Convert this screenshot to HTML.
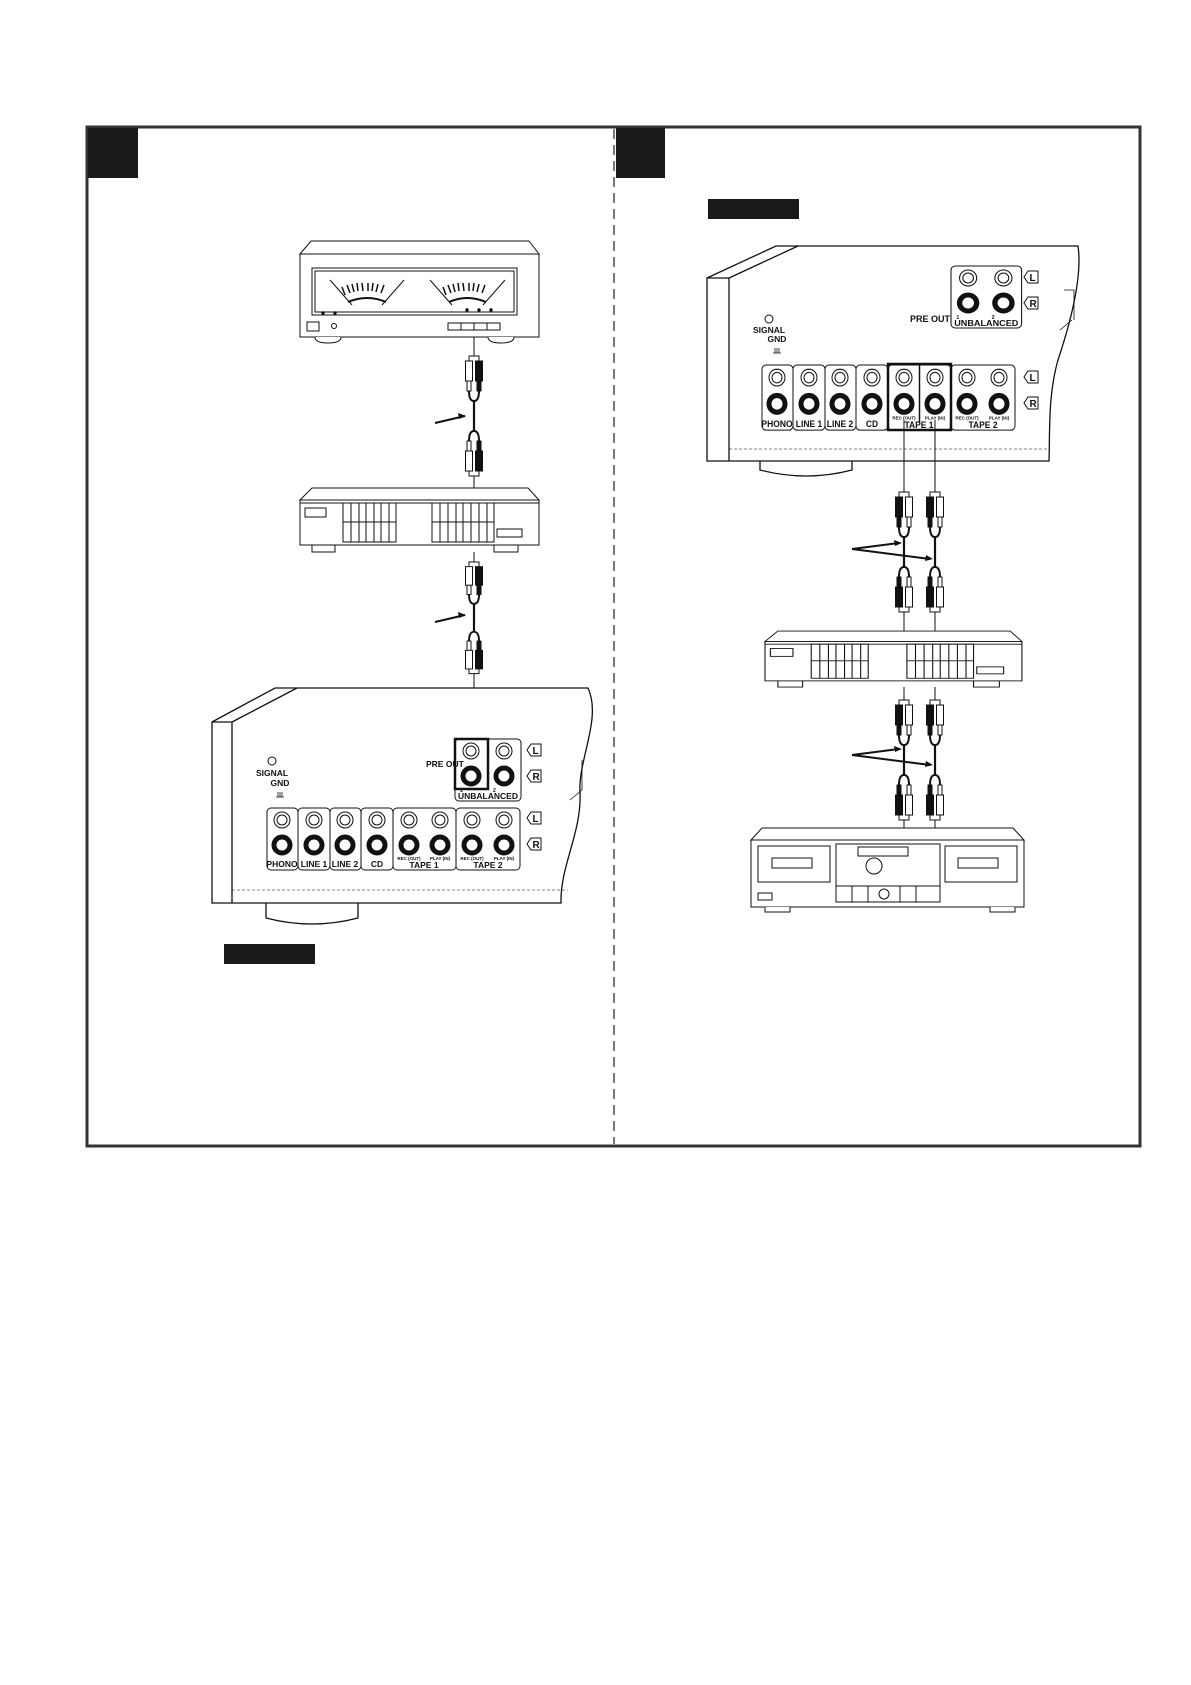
<!DOCTYPE html>
<html><head><meta charset="utf-8"><style>
html,body{margin:0;padding:0;background:#fff;}
svg{display:block;}
text{font-family:"Liberation Sans",sans-serif;font-weight:bold;fill:#111;}
</style></head><body>
<svg width="1191" height="1685" viewBox="0 0 1191 1685" xmlns="http://www.w3.org/2000/svg">
<defs>
  <g id="cab" fill="none" stroke="#111" stroke-width="1">
    <path d="M-5,5 V0 H5 V5"/>
    <rect x="-8.5" y="5" width="7" height="20" fill="#fff"/>
    <rect x="1.5" y="5" width="7" height="20" fill="#111"/>
    <rect x="-7" y="25" width="4" height="10" fill="#fff"/>
    <rect x="3" y="25" width="4" height="10" fill="#111"/>
    <path d="M-5,35 Q-5,45 0,45 Q5,45 5,35" stroke-width="2"/>
    <line x1="0" y1="45" x2="0" y2="75" stroke-width="2.2"/>
    <path d="M-5,85 Q-5,75 0,75 Q5,75 5,85" stroke-width="2"/>
    <rect x="-7" y="85" width="4" height="10" fill="#fff"/>
    <rect x="3" y="85" width="4" height="10" fill="#111"/>
    <rect x="-8.5" y="95" width="7" height="20" fill="#fff"/>
    <rect x="1.5" y="95" width="7" height="20" fill="#111"/>
    <path d="M-5,115 V120 H5 V115"/>
  </g>
  <g id="jk">
    <circle cx="0" cy="0" r="8" fill="#fff" stroke="#111" stroke-width="1"/>
    <circle cx="0" cy="0" r="5" fill="#fff" stroke="#111" stroke-width="1"/>
  </g>
  <g id="jb">
    <circle cx="0" cy="0" r="8" fill="#fff" stroke="#111" stroke-width="5"/>
  </g>
  <g id="row">
    <g fill="none" stroke="#111" stroke-width="1">
      <rect x="0" y="0" width="31" height="62" rx="4"/>
      <rect x="31" y="0" width="32" height="62" rx="4"/>
      <rect x="63" y="0" width="31" height="62" rx="4"/>
      <rect x="94" y="0" width="32" height="62" rx="4"/>
      <rect x="126" y="0" width="63" height="62" rx="4"/>
      <rect x="189" y="0" width="64" height="62" rx="4"/>
    </g>
    <use href="#jk" x="15" y="12"/><use href="#jk" x="47" y="12"/><use href="#jk" x="78" y="12"/><use href="#jk" x="110" y="12"/>
    <use href="#jk" x="142" y="12"/><use href="#jk" x="173" y="12"/><use href="#jk" x="205" y="12"/><use href="#jk" x="237" y="12"/>
    <use href="#jb" x="15" y="37"/><use href="#jb" x="47" y="37"/><use href="#jb" x="78" y="37"/><use href="#jb" x="110" y="37"/>
    <use href="#jb" x="142" y="37"/><use href="#jb" x="173" y="37"/><use href="#jb" x="205" y="37"/><use href="#jb" x="237" y="37"/>
    <g font-size="8.5" text-anchor="middle">
      <text x="15" y="59">PHONO</text><text x="47" y="59">LINE 1</text><text x="78" y="59">LINE 2</text><text x="110" y="59">CD</text>
      <text x="157" y="60">TAPE 1</text><text x="221" y="60">TAPE 2</text>
    </g>
    <g font-size="4.5" text-anchor="middle">
      <text x="142" y="52">REC (OUT)</text><text x="173" y="52">PLAY (IN)</text>
      <text x="205" y="52">REC (OUT)</text><text x="237" y="52">PLAY (IN)</text>
    </g>
  </g>
  <g id="lr">
    <path d="M4,-6 H14 V6 H4 L0,0 Z" fill="#fff" stroke="#111" stroke-width="1"/>
    <text x="5.5" y="4" font-size="10">L</text>
    <path d="M4,20 H14 V32 H4 L0,26 Z" fill="#fff" stroke="#111" stroke-width="1"/>
    <text x="5.5" y="30" font-size="10">R</text>
  </g>
  <g id="pre">
    <rect x="0" y="0" width="66" height="62" rx="4" fill="none" stroke="#111"/>
    <use href="#jk" x="16" y="12"/><use href="#jk" x="49" y="12"/>
    <use href="#jb" x="16" y="37"/><use href="#jb" x="49" y="37"/>
    <text x="5" y="53" font-size="5">1</text><text x="38" y="53" font-size="5">2</text>
    <text x="33" y="60" font-size="8.5" text-anchor="middle">UNBALANCED</text>
  </g>
  <g id="eq" fill="none" stroke="#111" stroke-width="1">
    <path d="M300,500 L312,488 H528 L539,500 Z" fill="#fff"/>
    <rect x="300" y="500" width="239" height="45" fill="#fff"/>
    <line x1="300" y1="503" x2="539" y2="503"/>
    <rect x="305" y="508" width="21" height="9"/>
    <rect x="497" y="529" width="25" height="8"/>
    <rect x="343" y="503" width="53" height="39"/>
    <rect x="432" y="503" width="62" height="39"/>
    <path d="M351,503V542M359,503V542M366,503V542M374,503V542M381,503V542M389,503V542M440,503V542M448,503V542M456,503V542M463,503V542M471,503V542M479,503V542M487,503V542M343,522H396M432,522H494"/>
    <path d="M312,545 V552 H335 V545 M494,545 V552 H518 V545"/>
  </g>
</defs>

<rect x="87" y="127" width="1053" height="1019" fill="none" stroke="#333" stroke-width="3"/>
<line x1="614" y1="129" x2="614" y2="1144" stroke="#333" stroke-width="1.3" stroke-dasharray="10,6"/>
<rect x="88" y="128" width="50" height="50" fill="#1a1a1a"/>
<rect x="616" y="128" width="49" height="50" fill="#1a1a1a"/>
<rect x="708" y="199" width="91" height="20" fill="#1a1a1a"/>
<rect x="224" y="944" width="91" height="20" fill="#1a1a1a"/>

<g fill="#fff" stroke="#111" stroke-width="1">
  <path d="M300,254 L311,241 H529 L539,254 Z"/>
  <rect x="300" y="254" width="239" height="83"/>
  <rect x="312" y="268" width="205" height="47"/>
  <rect x="315" y="271" width="199" height="41"/>
  <path d="M330,280 L352,305 M404,280 L382,305 M430,280 L452,305 M505,280 L483,305" />
  <path d="M348,302 Q367,294 386,302 M449,302 Q467,294 486,302" stroke-width="2"/>
  <path d="M342,287 l3,8 M347,285 l3,8 M352,284 l2,8 M357,283 l1,8 M362,283 l1,8 M368,283 l0,8 M373,283 l-1,8 M378,284 l-2,8 M384,285 l-3,8 M443,287 l3,8 M448,285 l3,8 M453,284 l2,8 M458,283 l1,8 M463,283 l1,8 M469,283 l0,8 M474,283 l-1,8 M479,284 l-2,8 M485,285 l-3,8" stroke-width="1.5"/>
  <rect x="307" y="322" width="12" height="9"/>
  <circle cx="334" cy="326" r="2.5"/>
  <rect x="448" y="323" width="52" height="7"/>
  <path d="M461,323V330M474,323V330M487,323V330"/>
  <circle cx="323" cy="313" r="1.2" fill="#111"/><circle cx="335" cy="313" r="1.2" fill="#111"/>
  <circle cx="467" cy="310" r="1.2" fill="#111"/><circle cx="479" cy="310" r="1.2" fill="#111"/><circle cx="491" cy="310" r="1.2" fill="#111"/>
  <path d="M315,337 Q315,343 328,343 Q341,343 341,337 M488,337 Q488,343 501,343 Q514,343 514,337"/>
</g>
<line x1="474" y1="337" x2="474" y2="356" stroke="#111"/>
<use href="#cab" transform="translate(474,356)"/>
<line x1="474" y1="476" x2="474" y2="488" stroke="#111"/>
<path d="M435,423 L465,416" stroke="#111" stroke-width="2"/><path d="M466,416 l-8,-3 l1,6 z" fill="#111"/>

<use href="#eq"/>
<line x1="474" y1="552" x2="474" y2="562" stroke="#111"/>
<use href="#cab" transform="translate(474,562) scale(1,0.93)"/>
<line x1="474" y1="674" x2="474" y2="752" stroke="#111"/>
<path d="M435,622 L465,615" stroke="#111" stroke-width="2"/><path d="M466,615 l-8,-3 l1,6 z" fill="#111"/>

<g fill="none" stroke="#111" stroke-width="1.3">
  <path d="M212,722 L275,688 H588 C602,718 578,760 580,792 C582,832 560,866 561,903 H212 Z" fill="#fff"/>
  <path d="M232,722 V903 M232,722 L297,688 M212,722 H232"/>
  <path d="M232,890 H568" stroke-width="0.6" stroke-dasharray="3,2"/>
  <path d="M266,903 V918 Q312,930 358,918 V903"/>
  <path d="M582,760 V790 L570,800" stroke-width="0.8"/>
</g>
<circle cx="272" cy="761" r="4" fill="#fff" stroke="#111"/>
<text x="272" y="776" font-size="8.5" text-anchor="middle">SIGNAL</text>
<text x="280" y="786" font-size="8.5" text-anchor="middle">GND</text>
<path d="M276,797 H284 M278,797 V792 M280,797 V792 M282,797 V792" stroke="#111" stroke-width="0.8"/>
<use href="#row" x="267" y="808"/>
<use href="#pre" x="455" y="739"/>
<rect x="455" y="739" width="33" height="50" fill="none" stroke="#111" stroke-width="2.5"/>
<text x="426" y="767" font-size="8.5">PRE OUT</text>
<use href="#lr" x="527" y="750"/>
<use href="#lr" x="527" y="818"/>

<g fill="none" stroke="#111" stroke-width="1.3">
  <path d="M707,278 L776,246 H1078 C1083,280 1068,330 1058,360 C1048,395 1050,430 1049,461 H707 Z" fill="#fff"/>
  <path d="M729,278 V461 M729,278 L798,246 M707,278 H729"/>
  <path d="M729,449 H1050" stroke-width="0.6" stroke-dasharray="3,2"/>
  <path d="M760,461 V470 Q806,482 852,470 V461"/>
  <path d="M1064,290 H1074 V320 M1060,330 L1072,320" stroke-width="0.8"/>
</g>
<circle cx="769" cy="319" r="4" fill="#fff" stroke="#111"/>
<text x="769" y="333" font-size="8.5" text-anchor="middle">SIGNAL</text>
<text x="777" y="342" font-size="8.5" text-anchor="middle">GND</text>
<path d="M773,353 H781 M775,353 V348 M777,353 V348 M779,353 V348" stroke="#111" stroke-width="0.8"/>
<g transform="translate(762,365) scale(1,1.05)"><use href="#row"/></g>
<rect x="888" y="364" width="63" height="66" fill="none" stroke="#111" stroke-width="2.5"/>
<line x1="919.5" y1="364" x2="919.5" y2="422" stroke="#111" stroke-width="1.5"/>
<g transform="translate(951,266) scale(1.07,1.0)"><use href="#pre"/></g>
<text x="910" y="322" font-size="9">PRE OUT</text>
<use href="#lr" x="1024" y="277"/>
<use href="#lr" x="1024" y="377"/>

<g stroke="#111" fill="none" stroke-width="1">
  <path d="M904,420 V492 M935,420 V492"/>
  <path d="M904,612 V641 M935,612 V641"/>
  <path d="M904,687 V700 M935,687 V700"/>
  <path d="M904,820 V830 M935,820 V830"/>
</g>
<use href="#cab" transform="translate(904,492) scale(-1,1)"/>
<use href="#cab" transform="translate(935,492) scale(-1,1)"/>
<use href="#cab" transform="translate(904,700) scale(-1,1)"/>
<use href="#cab" transform="translate(935,700) scale(-1,1)"/>
<path d="M852,549 L899,543 M852,549 L930,559" stroke="#111" stroke-width="2"/>
<path d="M902,543 l-8,-3 l1,6 z M933,559 l-7,-4 l-1,6 z" fill="#111"/>
<path d="M852,755 L899,749 M852,755 L930,765" stroke="#111" stroke-width="2"/>
<path d="M902,749 l-8,-3 l1,6 z M933,765 l-7,-4 l-1,6 z" fill="#111"/>

<g transform="translate(765,631) scale(1.075,0.875) translate(-300,-488)"><use href="#eq"/></g>

<g fill="#fff" stroke="#111" stroke-width="1">
  <path d="M751,840 L762,828 H1013 L1024,840 Z"/>
  <rect x="751" y="840" width="273" height="67"/>
  <rect x="758" y="846" width="72" height="36"/>
  <rect x="945" y="846" width="72" height="36"/>
  <rect x="772" y="858" width="40" height="10"/><rect x="958" y="858" width="40" height="10"/>
  <rect x="836" y="844" width="104" height="42"/>
  <rect x="858" y="847" width="50" height="9"/>
  <circle cx="874" cy="866" r="8"/>
  <rect x="836" y="886" width="104" height="16"/>
  <path d="M852,886V902M868,886V902M900,886V902M916,886V902"/>
  <circle cx="884" cy="894" r="5"/>
  <rect x="758" y="893" width="14" height="7"/>
  <path d="M765,907 V912 H790 V907 M990,907 V912 H1015 V907"/>
</g>
</svg>
</body></html>
